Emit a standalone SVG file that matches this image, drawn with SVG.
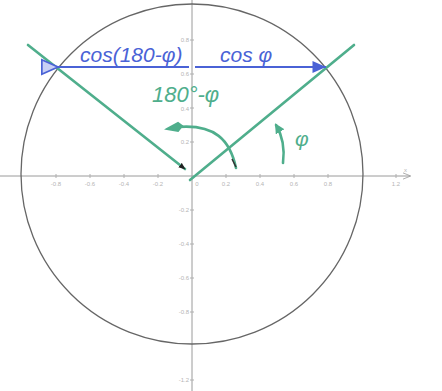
<svg xmlns="http://www.w3.org/2000/svg" width="442" height="391" viewBox="0 0 442 391">
<defs>
<style>
.axis{stroke:#9a9a9a;stroke-width:1;fill:none}
.tick{stroke:#b0b0b0;stroke-width:1}
.tl{font-family:"Liberation Sans",Arial,sans-serif;font-size:6px;fill:#b5b5b5}
.grn{stroke:#4fae8c;stroke-width:2.6;fill:none;stroke-linecap:round}
.blue{stroke:#4a62d6;stroke-width:2.2;fill:none}
.hb{font-family:"Liberation Sans",Arial,sans-serif;font-style:italic;fill:#4a62d6}
.hg{font-family:"Liberation Sans",Arial,sans-serif;font-style:italic;fill:#4fae8c}
</style>
<marker id="bOpen" viewBox="0 0 20 20" refX="1" refY="10" markerWidth="18" markerHeight="18" markerUnits="userSpaceOnUse" orient="auto">
<path d="M19,2 L1,10 L19,18 Z" fill="#c8d0f5" stroke="#4a62d6" stroke-width="2"/>
</marker>
<marker id="bFill" viewBox="0 0 20 20" refX="19" refY="10" markerWidth="15" markerHeight="15" markerUnits="userSpaceOnUse" orient="auto">
<path d="M1,2 L19,10 L1,18 Z" fill="#4a62d6"/>
</marker>
<marker id="kHead" viewBox="0 0 10 10" refX="9" refY="5" markerWidth="7" markerHeight="7" markerUnits="userSpaceOnUse" orient="auto">
<path d="M0,1 L10,5 L0,9 Z" fill="#222"/>
</marker>
<marker id="gHead" viewBox="0 0 10 10" refX="8" refY="5" markerWidth="10" markerHeight="10" markerUnits="userSpaceOnUse" orient="auto">
<path d="M0,0 L10,5 L0,10 Z" fill="#4fae8c"/>
</marker>
<marker id="axHead" viewBox="0 0 10 10" refX="9" refY="5" markerWidth="8" markerHeight="8" markerUnits="userSpaceOnUse" orient="auto">
<path d="M0,1 L10,5 L0,9" fill="none" stroke="#9a9a9a" stroke-width="1"/>
</marker>
</defs>
<rect width="442" height="391" fill="#ffffff"/>

<g id="axes">
<line class="axis" x1="0" y1="176" x2="410" y2="176" marker-end="url(#axHead)"/>
<line class="axis" x1="192" y1="0" x2="192" y2="391"/>
<g class="tick">
<line x1="56" y1="174" x2="56" y2="178"/><line x1="90" y1="174" x2="90" y2="178"/><line x1="124" y1="174" x2="124" y2="178"/><line x1="158" y1="174" x2="158" y2="178"/>
<line x1="226" y1="174" x2="226" y2="178"/><line x1="260" y1="174" x2="260" y2="178"/><line x1="294" y1="174" x2="294" y2="178"/><line x1="328" y1="174" x2="328" y2="178"/><line x1="396" y1="174" x2="396" y2="178"/>
<line x1="190" y1="40" x2="194" y2="40"/><line x1="190" y1="74" x2="194" y2="74"/><line x1="190" y1="108" x2="194" y2="108"/><line x1="190" y1="142" x2="194" y2="142"/>
<line x1="190" y1="210" x2="194" y2="210"/><line x1="190" y1="244" x2="194" y2="244"/><line x1="190" y1="278" x2="194" y2="278"/><line x1="190" y1="312" x2="194" y2="312"/><line x1="190" y1="380" x2="194" y2="380"/>
</g>
<g class="tl" text-anchor="middle">
<text x="56" y="186">-0.8</text><text x="90" y="186">-0.6</text><text x="124" y="186">-0.4</text><text x="158" y="186">-0.2</text>
<text x="197" y="186">0</text><text x="226" y="186">0.2</text><text x="260" y="186">0.4</text><text x="294" y="186">0.6</text><text x="328" y="186">0.8</text><text x="396" y="186">1.2</text>
</g>
<g class="tl" text-anchor="end">
<text x="189" y="42">0.8</text><text x="189" y="76">0.6</text><text x="189" y="111">0.4</text><text x="189" y="144">0.2</text>
<text x="189" y="212">-0.2</text><text x="189" y="246">-0.4</text><text x="189" y="280">-0.6</text><text x="189" y="314">-0.8</text><text x="189" y="382">-1.2</text>
</g>
<text class="tl" x="404" y="172">x</text>
</g>

<g id="circle">
<ellipse cx="192" cy="174" rx="171" ry="170" fill="none" stroke="#666" stroke-width="1.3"/>
</g>

<g id="connectors">
<line class="grn" x1="28" y1="45" x2="185" y2="169" marker-end="url(#kHead)"/>
<line class="grn" x1="190" y1="180" x2="354" y2="45"/>
<line class="blue" x1="189" y1="67" x2="58" y2="67" marker-end="url(#bOpen)"/>
<line class="blue" x1="195" y1="67" x2="326" y2="67" marker-end="url(#bFill)"/>
<path class="grn" d="M236,168 C230,140 215,124 178,127" stroke-width="2.2"/>
<path d="M167,129 L178,123 L182,126 L178,131 Z" fill="#4fae8c" stroke="#4fae8c" stroke-width="2"/>
<path d="M232,159 L236,167" stroke="#333" stroke-width="1.5"/>
<path class="grn" d="M283,163 C285,148 282,135 276,125" stroke-width="2.6" marker-end="url(#gHead)"/>
</g>

<g id="labels">
<text class="hb" x="80" y="62" font-size="21">cos(180-φ)</text>
<text class="hb" x="220" y="62" font-size="21">cos φ</text>
<text class="hg" x="152" y="102" font-size="22">180°-φ</text>
<text class="hg" x="295" y="146" font-size="21">φ</text>
</g>
</svg>
